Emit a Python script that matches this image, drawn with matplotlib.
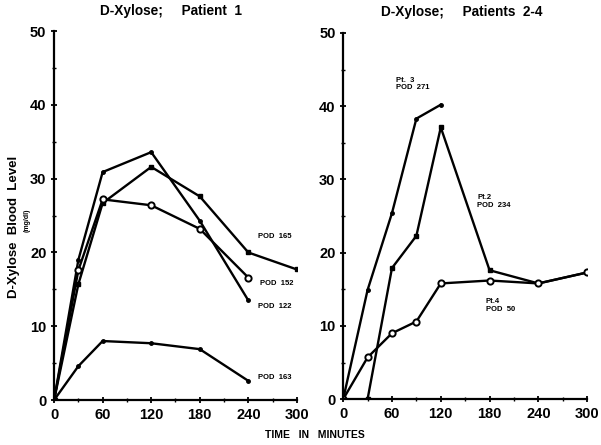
import matplotlib.pyplot as plt
from matplotlib.ticker import MultipleLocator

plt.rcParams['font.family'] = ['Liberation Sans', 'DejaVu Sans']
plt.rcParams['font.weight'] = 'bold'

# Patient 1, time in minutes vs D-xylose level (mg/dl)
t1 = [0, 30, 60, 120, 180, 240, 300]
pod165 = [0, 15.7, 26.7, 31.6, 27.6, 20.0, 17.7]
t1b = [0, 30, 60, 120, 180, 240]
pod122 = [0, 19.0, 30.9, 33.6, 24.3, 13.5]
pod152 = [0, 17.6, 27.2, 26.4, 23.2, 16.6]
pod163 = [0, 4.6, 8.0, 7.7, 6.9, 2.6]

# Patients 2-4
t3 = [0, 30, 60, 90, 120]
pt3 = [0, 14.9, 25.4, 38.3, 40.2]
t2 = [0, 30, 60, 90, 120, 180, 240, 300]
pt2 = [0, 0, 17.9, 22.3, 37.1, 17.6, 15.8, 17.3]
pt4 = [0, 5.7, 9.0, 10.6, 15.8, 16.2, 15.8, 17.3]

fig = plt.figure(figsize=(6.01, 4.45), dpi=100)
ax1 = fig.add_axes([0.090, 0.101, 0.404, 0.829])
ax2 = fig.add_axes([0.571, 0.103, 0.406, 0.823])

lw = 1.7
ax1.plot(t1, pod165, color='black', lw=lw, marker='s', ms=3.5)
ax1.plot(t1b, pod122, color='black', lw=lw, marker='o', ms=2.5)
ax1.plot(t1b, pod152, color='black', lw=lw, marker='o', ms=4.5, mfc='white', mew=1.4)
ax1.plot(t1b, pod163, color='black', lw=lw, marker='o', ms=2.5)

lab = dict(fontsize=5.5, fontweight='bold')
ax1.text(252, 22.2, 'POD  165', va='center', **lab)
ax1.text(255, 15.8, 'POD  152', va='center', **lab)
ax1.text(252, 12.7, 'POD  122', va='center', **lab)
ax1.text(252, 3.0, 'POD  163', va='center', **lab)

ax2.plot(t3, pt3, color='black', lw=lw, marker='o', ms=2.5)
ax2.plot(t2, pt2, color='black', lw=lw, marker='s', ms=3.5)
ax2.plot(t2, pt4, color='black', lw=lw, marker='o', ms=4.5, mfc='white', mew=1.4)

ax2.text(65, 43.0, 'Pt.  3\nPOD  271', va='center', linespacing=1.1, **lab)
ax2.text(165, 27.0, 'Pt.2\nPOD  234', va='center', linespacing=1.1, **lab)
ax2.text(175, 12.8, 'Pt.4\nPOD  50', va='center', linespacing=1.1, **lab)

for ax in (ax1, ax2):
    ax.set_xlim(0, 300)
    ax.set_ylim(0, 50)
    ax.spines['top'].set_visible(False)
    ax.spines['right'].set_visible(False)
    ax.spines['left'].set_linewidth(1.6)
    ax.spines['bottom'].set_linewidth(1.6)
    ax.xaxis.set_major_locator(MultipleLocator(60))
    ax.xaxis.set_minor_locator(MultipleLocator(30))
    ax.yaxis.set_major_locator(MultipleLocator(10))
    ax.yaxis.set_minor_locator(MultipleLocator(5))
    ax.tick_params(which='major', direction='inout', length=5, width=1.3,
                   labelsize=10.5, pad=3)
    ax.tick_params(which='minor', direction='inout', length=3, width=1)
    for t in ax.get_xticklabels() + ax.get_yticklabels():
        t.set_fontweight('bold')

fig.text(0.285, 0.975, 'D-Xylose;     Patient  1', ha='center', va='center',
         fontsize=9.8, fontweight='bold')
fig.text(0.769, 0.972, 'D-Xylose;     Patients  2-4', ha='center', va='center',
         fontsize=9.8, fontweight='bold')
fig.text(0.524, 0.022, 'TIME   IN   MINUTES', ha='center', va='center',
         fontsize=7.5, fontweight='bold')
fig.text(0.024, 0.49, 'D-Xylose  Blood  Level', rotation=90, ha='center',
         va='center', fontsize=9.5, fontweight='bold')
fig.text(0.045, 0.506, '(mg/dl)', rotation=90, ha='center', va='center',
         fontsize=5, fontweight='bold')

fig.savefig('out.png', dpi=100)
